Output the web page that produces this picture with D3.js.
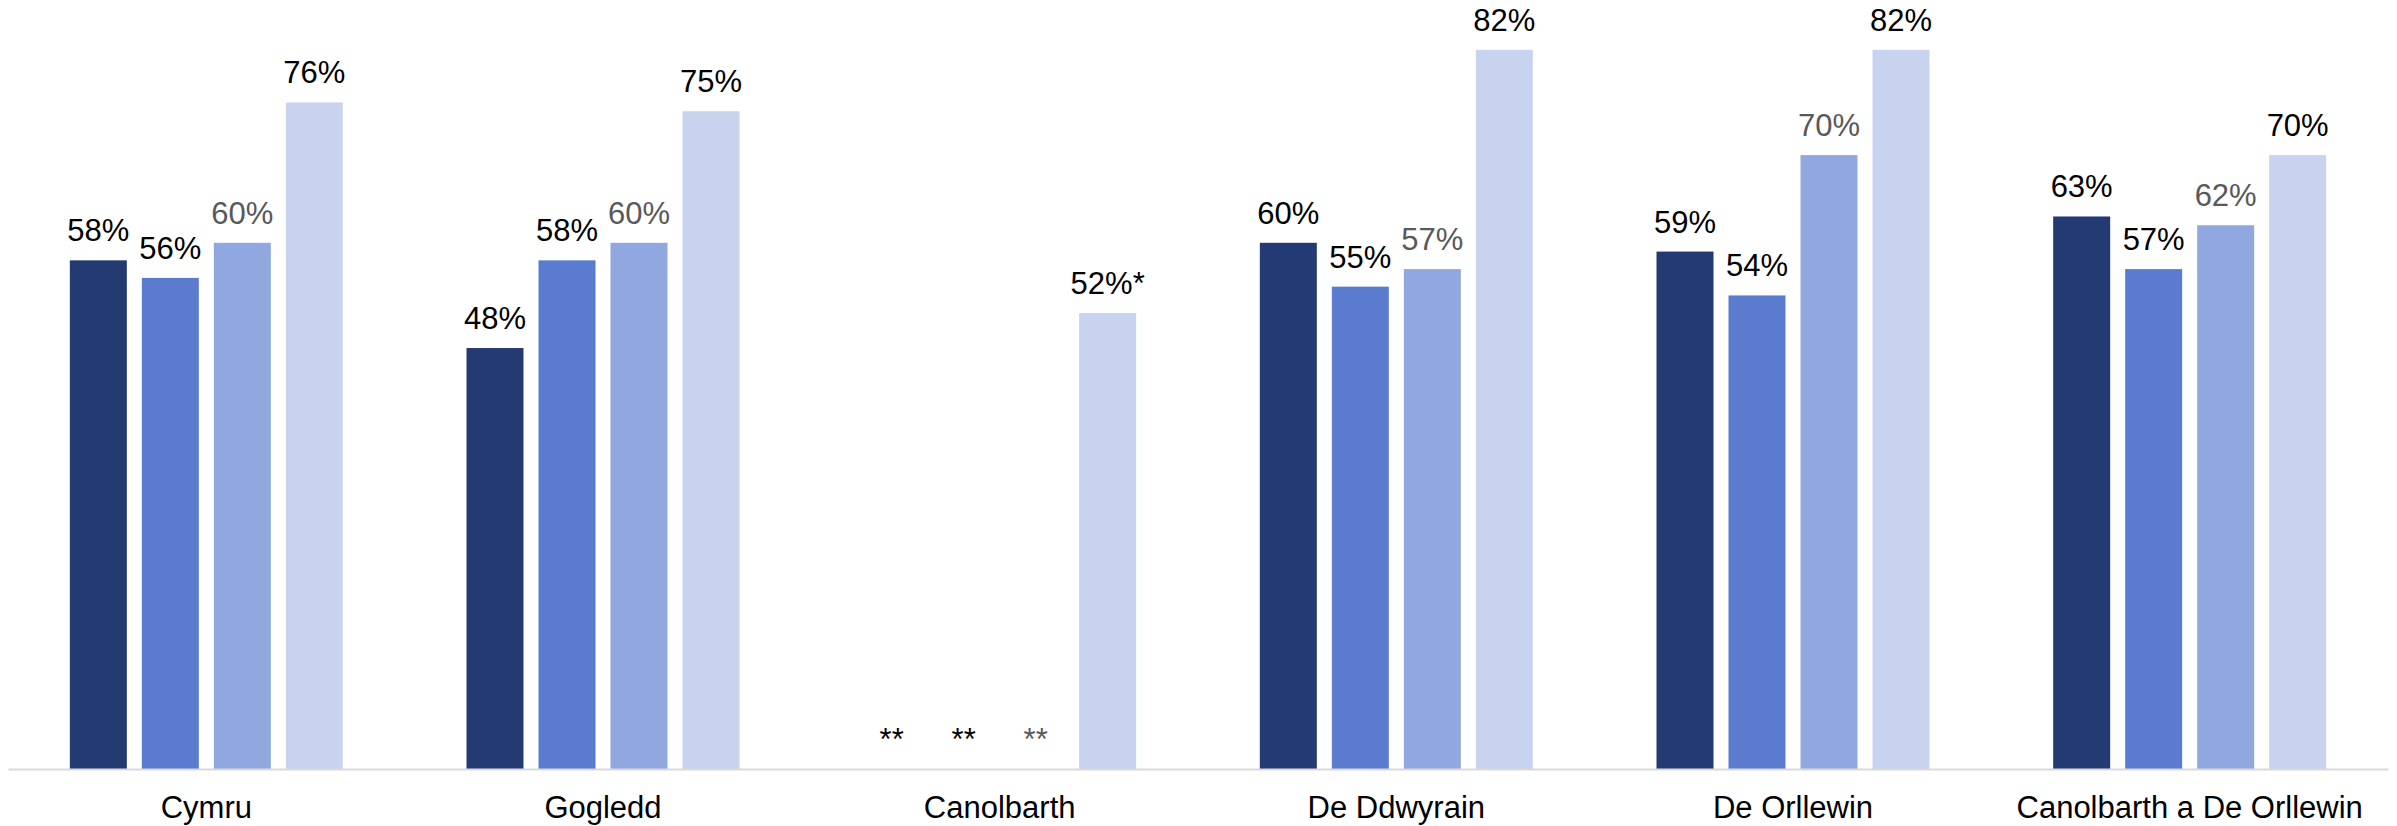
<!DOCTYPE html>
<html>
<head>
<meta charset="utf-8">
<script src="https://cdn.jsdelivr.net/npm/d3@7"></script>
<style>
	html, body { margin: 0; padding: 0; background: #fff; }
	svg { display: block; font-family: 'Liberation Sans', Arial, sans-serif; }
</style>
</head>
<body>
<div id="chart"></div>
<script>
// regions along the x axis
const regions = ['Cymru', 'Gogledd', 'Canolbarth', 'De Ddwyrain', 'De Orllewin', 'Canolbarth a De Orllewin']

// four series, values in % (null = suppressed, shown as **)
const series1 = [58, 48, null, 60, 59, 63]
const series2 = [56, 58, null, 55, 54, 57]
const series3 = [60, 60, null, 57, 70, 62]
const series4 = [76, 75, 52, 82, 82, 70]

// footnote marks on some labels
const series4Notes = ['', '', '*', '', '', '']

const seriesColors = ['#243a73', '#5b7bcf', '#91a7df', '#c8d3ef']
const labelColors = ['#000000', '#000000', '#595959', '#000000']

const width = 2397
const height = 826
const margin = { left: 8, right: 9, base: 769 }

const allSeries = [series1, series2, series3, series4]

// build rows for drawing
let rows = []
regions.forEach((r, i) => {
	allSeries.forEach((s, k) => {
		rows.push({
			region: r,
			key: k,
			value: s[i],
			note: k == 3 ? series4Notes[i] : ''
		})
	})
})

const svg = d3.select('#chart').append('svg')
	.attr('width', width)
	.attr('height', height)

const x0 = d3.scaleBand()
	.domain(regions)
	.range([margin.left, width - margin.right])

// inner band for the 4 bars, 57px bars on a 72px step
const x1 = d3.scaleBand()
	.domain([0, 1, 2, 3])
	.range([x0.bandwidth() / 2 - 144, x0.bandwidth() / 2 + 144])
	.paddingInner(15 / 72)
	.paddingOuter(7.5 / 72)

const y = d3.scaleLinear()
	.domain([0, 100])
	.range([margin.base, margin.base - 877])

// bars
const groups = svg.selectAll('g.region')
	.data(regions)
	.enter()
	.append('g')
	.attr('class', 'region')
	.attr('transform', d => `translate(${x0(d)},0)`)

groups.selectAll('rect')
	.data(r => rows.filter(d => d.region == r && d.value != null))
	.enter()
	.append('rect')
	.attr('x', d => x1(d.key))
	.attr('width', x1.bandwidth())
	.attr('y', d => y(d.value))
	.attr('height', d => y(0) - y(d.value))
	.attr('fill', d => seriesColors[d.key])

// value labels
groups.selectAll('text.value')
	.data(r => rows.filter(d => d.region == r))
	.enter()
	.append('text')
	.attr('class', 'value')
	.attr('x', d => x1(d.key) + x1.bandwidth() / 2)
	.attr('y', d => y(d.value == null ? 0 : d.value) - 19)
	.attr('text-anchor', 'middle')
	.style('font-size', '31px')
	.attr('fill', d => labelColors[d.key])
	.text(d => d.value == null ? '**' : d.value + '%' + d.note)

// x axis
const xAxis = d3.axisBottom(x0).tickSize(0).tickPadding(0)

const axisG = svg.append('g')
	.attr('transform', `translate(0,${margin.base})`)
	.call(xAxis)

axisG.select('.domain')
	.attr('stroke', '#d9d9d9')
	.attr('stroke-width', 2)

axisG.selectAll('.tick text')
	.attr('dy', 0)
	.attr('y', 49)
	.attr('fill', '#000')
	.style('font-size', '31px')
	.style('font-family', "'Liberation Sans', Arial, sans-serif")
</script>
</body>
</html>
